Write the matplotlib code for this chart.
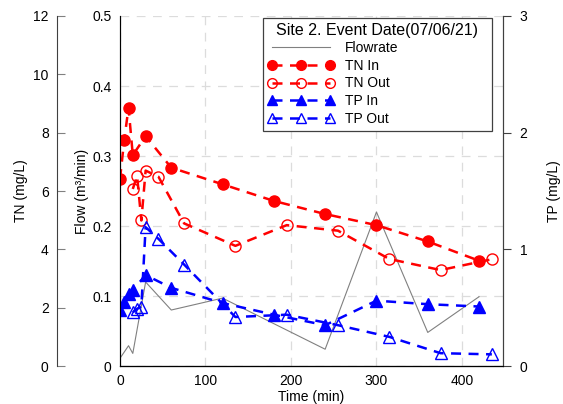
import matplotlib
matplotlib.use('Agg')
import matplotlib.pyplot as plt
from matplotlib.lines import Line2D

plt.rcParams['font.family'] = ['Liberation Sans', 'DejaVu Sans']
plt.rcParams['font.size'] = 10

# flow (m3/min)
t_flow = [0, 10, 15, 30, 60, 120, 240, 300, 360, 420]
flow = [0.011, 0.029, 0.018, 0.12, 0.08, 0.097, 0.024, 0.22, 0.048, 0.099]

# inflow sampling times / outflow sampling times
t_in = [0, 5, 10, 15, 30, 60, 120, 180, 240, 300, 360, 420]
t_out = [15, 20, 25, 30, 45, 75, 135, 195, 255, 315, 375, 435]

tn_in = [6.41, 7.75, 8.86, 7.23, 7.88, 6.80, 6.23, 5.66, 5.21, 4.83, 4.27, 3.61]
tn_out = [6.07, 6.52, 4.99, 6.70, 6.49, 4.89, 4.12, 4.83, 4.64, 3.67, 3.29, 3.66]
tp_in = [0.48, 0.55, 0.62, 0.65, 0.78, 0.67, 0.54, 0.44, 0.35, 0.56, 0.53, 0.51]
tp_out = [0.46, 0.49, 0.51, 1.19, 1.09, 0.87, 0.42, 0.44, 0.35, 0.25, 0.11, 0.10]

fig = plt.figure(figsize=(5.63, 4.04), dpi=100)
ax = fig.add_axes([0.2131, 0.094, 0.6803, 0.8664])

ax.plot(t_flow, flow, color='#808080', lw=0.8)
ax.set_xlim(0, 448)
ax.set_ylim(0, 0.5)
ax.set_xticks([0, 100, 200, 300, 400])
ax.set_yticks([0, 0.1, 0.2, 0.3, 0.4, 0.5])
ax.set_yticklabels(['0', '0.1', '0.2', '0.3', '0.4', '0.5'])
ax.tick_params(axis='both', length=0, pad=6)
ax.grid(True, color='#dcdcdc', linestyle=(0, (7, 6)), lw=0.9)
ax.set_axisbelow(True)
ax.set_xlabel('Time (min)', labelpad=1)
ax.set_ylabel('Flow (m³/min)', labelpad=2)
ax.spines['top'].set_visible(False)
for s in ax.spines.values():
    s.set_color('#404040')

# TN axis on far left
ax_tn = ax.twinx()
ax_tn.spines['left'].set_position(('axes', -0.1645))
ax_tn.spines['left'].set_visible(True)
ax_tn.spines['right'].set_visible(False)
ax_tn.spines['top'].set_visible(False)
ax_tn.yaxis.set_label_position('left')
ax_tn.yaxis.set_ticks_position('left')
ax_tn.set_ylim(0, 12)
ax_tn.set_yticks([0, 2, 4, 6, 8, 10, 12])
ax_tn.tick_params(axis='y', direction='in', length=6, pad=6, color='#808080')
ax_tn.spines['left'].set_color('#404040')
ax_tn.set_ylabel('TN (mg/L)', labelpad=4)
ax_tn.plot(t_in, tn_in, color='red', ls='--', lw=1.8, marker='o', ms=8,
           dashes=(4, 3))
ax_tn.plot(t_out, tn_out, color='red', ls='--', lw=1.8, marker='o', ms=8,
           mfc='none', dashes=(4, 3))

# TP axis on right
ax_tp = ax.twinx()
ax_tp.spines['top'].set_visible(False)
ax_tp.spines['right'].set_color('#404040')
ax_tp.set_ylim(0, 3)
ax_tp.set_yticks([0, 1, 2, 3])
ax_tp.tick_params(axis='y', direction='out', length=6, pad=6, color='#404040')
ax_tp.set_ylabel('TP (mg/L)', labelpad=14)
ax_tp.plot(t_in, tp_in, color='blue', ls='--', lw=1.8, marker='^', ms=8,
           dashes=(4, 3))
ax_tp.plot(t_out, tp_out, color='blue', ls='--', lw=1.8, marker='^', ms=8,
           mfc='none', dashes=(4, 3))
ax_tp.set_xlim(0, 448)

handles = [
    Line2D([], [], color='#808080', lw=0.8),
    Line2D([], [], color='red', lw=1.8, dashes=(4, 3), marker='o', ms=7),
    Line2D([], [], color='red', lw=1.8, dashes=(4, 3), marker='o', ms=7, mfc='none'),
    Line2D([], [], color='blue', lw=1.8, dashes=(4, 3), marker='^', ms=7),
    Line2D([], [], color='blue', lw=1.8, dashes=(4, 3), marker='^', ms=7, mfc='none'),
]
labels = ['Flowrate', 'TN In', 'TN Out', 'TP In', 'TP Out']
leg = ax_tp.legend(handles, labels, title='  Site 2. Event Date(07/06/21)  ',
                   loc='upper right', bbox_to_anchor=(0.972, 0.995),
                   borderaxespad=0, numpoints=3, handlelength=4.8,
                   fancybox=False, framealpha=1, edgecolor='#404040',
                   labelspacing=0.26, handletextpad=0.8, borderpad=0.35,
                   title_fontsize=11.5, fontsize=10, alignment='left')
leg.get_frame().set_linewidth(0.9)

fig.savefig('out.png', dpi=100)
